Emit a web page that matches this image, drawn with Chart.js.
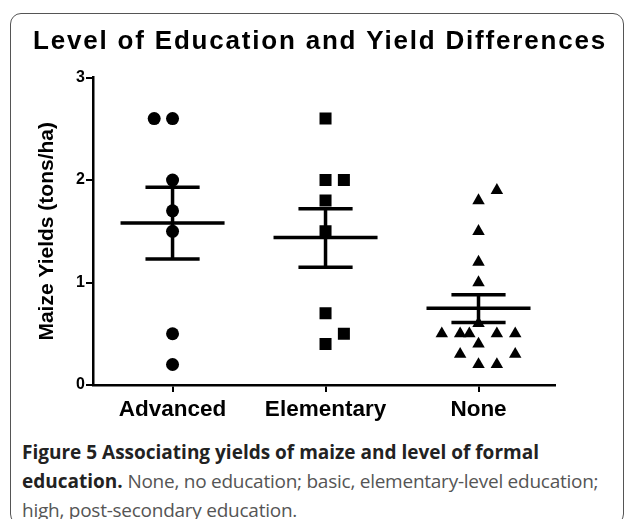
<!DOCTYPE html>
<html>
<head>
<meta charset="utf-8">
<script src="https://cdn.jsdelivr.net/npm/chart.js@4"></script>
<style>
  html, body { margin: 0; padding: 0; background: #fff; width: 628px; height: 519px; overflow: hidden; }
  #frame { position: absolute; left: 10px; top: 13px; width: 612px; height: 510px; border: 1.5px solid #555; border-radius: 11px; }
  #wrap { position: absolute; left: 0; top: 0; width: 628px; height: 430px; }
  #caption { position: absolute; left: 22px; top: 438px; width: 604px; font-family: "Open Sans", sans-serif; font-size: 19px; line-height: 29px; color: #555; letter-spacing: -0.25px; white-space: nowrap; }
  #caption b { color: #222; font-weight: 700; letter-spacing: 0px; }
</style>
</head>
<body>
<div id="frame"></div>
<div id="wrap"><canvas id="c" width="628" height="430"></canvas></div>
<div id="caption"><b>Figure 5 Associating yields of maize and level of formal<br>education.</b> None, no education; basic, elementary-level education;<br>high, post-secondary education.</div>
<script>
// ---- data ----
const CATEGORIES = ["Advanced", "Elementary", "None"];
const Y_TICKS = [0, 1, 2, 3];

const ADVANCED_YIELDS = [2.6, 2.6, 2.0, 1.7, 1.5, 0.5, 0.2];
const ADVANCED_JITTER = [-0.12, 0, 0, 0, 0, 0, 0];

const ELEMENTARY_YIELDS = [2.6, 2.0, 2.0, 1.8, 1.5, 0.7, 0.5, 0.4];
const ELEMENTARY_JITTER = [0, 0, 0.12, 0, 0, 0, 0.12, 0];

const NONE_YIELDS = [1.9, 1.8, 1.5, 1.2, 1.0, 0.6, 0.5, 0.5, 0.5, 0.5, 0.5, 0.4, 0.3, 0.3, 0.2, 0.2];
const NONE_JITTER = [0.12, 0, 0, 0, 0, 0, -0.24, -0.12, -0.06, 0.12, 0.24, 0, -0.12, 0.24, 0, 0.12];

const GROUP_MEANS = [1.58, 1.44, 0.75];
const GROUP_SEM_UPPER = [1.93, 1.72, 0.88];
const GROUP_SEM_LOWER = [1.23, 1.15, 0.61];

// ---- chart ----
function toPoints(catIndex, ys, jitter) {
  return ys.map((y, i) => ({ x: catIndex + jitter[i], y: y }));
}

const MEAN_HALF = 0.34, CAP_HALF = 0.177;

const meanSemPlugin = {
  id: 'meanSem',
  afterDatasetsDraw(chart) {
    const { ctx, scales: { x, y } } = chart;
    ctx.save();
    ctx.strokeStyle = '#000';
    ctx.lineWidth = 3.5;
    ctx.lineCap = 'butt';
    GROUP_MEANS.forEach((m, i) => {
      const cx = x.getPixelForValue(i);
      const yu = y.getPixelForValue(GROUP_SEM_UPPER[i]);
      const yl = y.getPixelForValue(GROUP_SEM_LOWER[i]);
      const ym = y.getPixelForValue(m);
      ctx.beginPath();
      ctx.moveTo(x.getPixelForValue(i - MEAN_HALF), ym);
      ctx.lineTo(x.getPixelForValue(i + MEAN_HALF), ym);
      ctx.moveTo(x.getPixelForValue(i - CAP_HALF), yu);
      ctx.lineTo(x.getPixelForValue(i + CAP_HALF), yu);
      ctx.moveTo(x.getPixelForValue(i - CAP_HALF), yl);
      ctx.lineTo(x.getPixelForValue(i + CAP_HALF), yl);
      ctx.moveTo(cx, yu);
      ctx.lineTo(cx, yl);
      ctx.stroke();
    });
    ctx.restore();
  }
};

const titleSpacingPlugin = {
  id: 'titleSpacing',
  afterLayout(chart) {
    const tb = chart.titleBlock;
    if (tb && !tb._spaced) {
      const orig = tb.draw.bind(tb);
      tb.draw = function (area) {
        const ctx = chart.ctx;
        const prev = ctx.letterSpacing;
        ctx.letterSpacing = '1.8px';
        orig(area);
        ctx.letterSpacing = prev || '0px';
      };
      tb._spaced = true;
    }
  }
};

const common = { showLine: false, borderColor: '#000', backgroundColor: '#000', borderWidth: 0 };

new Chart(document.getElementById('c'), {
  type: 'scatter',
  data: {
    datasets: [
      Object.assign({ label: CATEGORIES[0], data: toPoints(0, ADVANCED_YIELDS, ADVANCED_JITTER), pointStyle: 'circle', pointRadius: 6.5 }, common),
      Object.assign({ label: CATEGORIES[1], data: toPoints(1, ELEMENTARY_YIELDS, ELEMENTARY_JITTER), pointStyle: 'rect', pointRadius: 8.5 }, common),
      Object.assign({ label: CATEGORIES[2], data: toPoints(2, NONE_YIELDS, NONE_JITTER), pointStyle: 'triangle', pointRadius: 7.2 }, common)
    ]
  },
  options: {
    responsive: false,
    animation: false,
    devicePixelRatio: 1,
    layout: { padding: { left: 12, right: 0, top: 0, bottom: 0 } },
    plugins: {
      legend: { display: false },
      tooltip: { enabled: false },
      title: {
        display: true,
        text: 'Level of Education and Yield Differences',
        color: '#000',
        font: { family: '"Liberation Sans", Arial, sans-serif', size: 26, weight: 'bold' },
        padding: { top: 26, bottom: 20.4 }
      }
    },
    scales: {
      x: {
        type: 'linear',
        min: -0.52,
        max: 2.5,
        afterBuildTicks(scale) { scale.ticks = [0, 1, 2].map(v => ({ value: v })); },
        afterFit(scale) { scale.height = 45; },
        grid: { drawOnChartArea: false, drawTicks: true, tickLength: 7, color: '#000', lineWidth: 2 },
        border: { display: true, color: '#000', width: 2.5 },
        ticks: {
          color: '#000',
          padding: 4,
          font: { family: '"Liberation Sans", Arial, sans-serif', size: 22.5, weight: 'bold' },
          callback: (v) => CATEGORIES[v]
        }
      },
      y: {
        min: Y_TICKS[0],
        max: Y_TICKS[Y_TICKS.length - 1],
        afterBuildTicks(scale) { scale.ticks = Y_TICKS.map(v => ({ value: v })); },
        afterFit(scale) { scale.width = 81; },
        grid: { drawOnChartArea: false, drawTicks: true, tickLength: 7, color: '#000', lineWidth: 2 },
        border: { display: true, color: '#000', width: 2.5 },
        ticks: {
          color: '#000',
          padding: 1,
          font: { family: '"Liberation Sans", Arial, sans-serif', size: 16, weight: 'bold' }
        },
        title: {
          display: true,
          text: 'Maize Yields (tons/ha)',
          color: '#000',
          padding: { top: 23, bottom: 0 },
          font: { family: '"Liberation Sans", Arial, sans-serif', size: 21, weight: 'bold' }
        }
      },
      yRight: {
        position: 'right',
        display: true,
        afterFit(scale) { scale.width = 73; },
        grid: { display: false, drawTicks: false },
        border: { display: false },
        ticks: { display: false }
      }
    }
  },
  plugins: [meanSemPlugin, titleSpacingPlugin]
});
</script>
</body>
</html>
